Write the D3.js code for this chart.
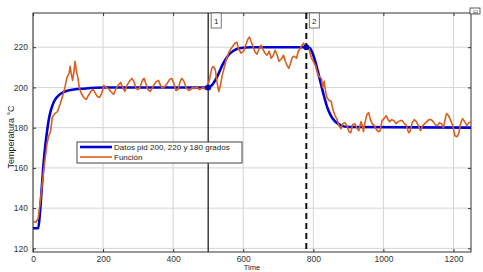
<!DOCTYPE html>
<html>
<head>
<meta charset="utf-8">
<script src="https://cdn.jsdelivr.net/npm/d3@7"></script>
<style>
  body { margin: 0; background: #fff; }
  text { font-family: "Liberation Sans", Arial, sans-serif; }
</style>
</head>
<body>
<script>
// data
var xTicks = [0, 200, 400, 600, 800, 1000, 1200];
var yTicks = [120, 140, 160, 180, 200, 220];

var pidTime = [0, 15, 20, 25, 30, 35, 40, 45, 50, 60, 70, 80, 100, 150, 200, 500, 510, 520, 530, 540, 550, 560, 570, 580, 590, 605, 620, 780, 790, 800, 810, 820, 830, 840, 850, 860, 870, 880, 900, 1250];
var pidTemp = [130, 130, 138, 150, 162, 171, 178, 184, 188, 193, 195.5, 197, 198.5, 199.5, 200, 200, 201, 203.5, 207, 211, 214, 216.5, 218, 219, 219.5, 219.8, 220, 220, 219.5, 216, 210, 203, 196, 190, 186, 183.5, 182, 181, 180.3, 180];

var funTime = [0, 8, 15, 22, 30, 40, 45, 50, 55, 62, 70, 78, 85, 91, 97, 103, 106, 110, 113, 117, 120, 124, 128, 132, 138, 145, 152, 158, 165, 172, 178, 184, 190, 196, 202, 208, 215, 222, 230, 236, 243, 250, 256, 262, 268, 275, 282, 288, 294, 300, 306, 312, 317, 322, 328, 334, 340, 346, 352, 358, 364, 370, 376, 383, 390, 396, 402, 408, 414, 420, 425, 431, 437, 444, 450, 456, 462, 468, 474, 480, 486, 492, 498, 504, 510, 515, 520, 525, 530, 535, 540, 546, 552, 558, 564, 570, 576, 582, 587, 594, 601, 607, 613, 618, 624, 629, 634, 639, 645, 651, 656, 662, 668, 674, 680, 686, 691, 697, 702, 708, 715, 720, 725, 730, 735, 740, 746, 752, 757, 763, 768, 772, 777, 783, 788, 794, 800, 806, 812, 818, 823, 827, 831, 835, 839, 845, 851, 856, 862, 868, 873, 879, 884, 890, 896, 902, 907, 912, 918, 924, 930, 936, 940, 943, 948, 953, 958, 963, 968, 974, 980, 986, 991, 996, 1002, 1008, 1013, 1018, 1024, 1030, 1036, 1042, 1048, 1054, 1060, 1066, 1072, 1076, 1082, 1088, 1094, 1100, 1106, 1112, 1118, 1124, 1130, 1136, 1142, 1148, 1154, 1160, 1166, 1171, 1176, 1180, 1186, 1192, 1198, 1204, 1210, 1215, 1220, 1226, 1232, 1238, 1244, 1250];
var funTemp = [133.5, 133, 135, 145, 158, 172, 176, 178, 185, 187, 188, 192, 196, 200, 205, 207, 210.5, 206, 203.5, 208, 213, 208, 205, 200, 197, 195, 194, 196, 198, 199, 197, 195.5, 195, 197, 201, 200, 199.5, 198, 196.5, 199, 201, 202.5, 200, 198, 201, 203, 204.5, 203, 199.5, 199, 200.5, 203.5, 204.5, 202, 199, 198, 199.5, 201.5, 203, 203.5, 201, 199.5, 200.5, 202, 204, 204.5, 202, 198.5, 199, 203, 204.5, 203, 200, 198.5, 199, 200, 199.5, 200.5, 199, 199.5, 200, 199, 200.5, 204, 209.5, 210.5, 209, 203, 198, 201, 206, 210, 214, 217, 219, 220.5, 222, 222.5, 219, 217, 218, 221, 224, 225, 222, 220, 217.5, 216.5, 219, 221, 219, 217, 216, 218, 214.5, 216, 218.5, 216, 213, 214, 216, 213, 211, 209.5, 212, 215, 215.5, 214.5, 218, 219.5, 221, 222, 220, 220.5, 219, 215, 213, 211, 207, 205, 204.5, 200, 203, 198, 195, 193.5, 193, 189, 186, 184, 181, 179.5, 182, 182.5, 181, 178, 177.5, 181.5, 182, 180, 178.5, 183, 181, 178, 183, 186.5, 187.5, 184, 182, 181, 179, 178, 178.5, 183.5, 184.5, 186, 184, 183, 184, 183.5, 182, 183, 183.5, 183.5, 182, 181, 177.5, 178, 182.5, 184, 183, 181, 178.5, 181, 182, 183, 184, 184, 183, 181.5, 181, 182.5, 182, 180, 184, 187, 186, 183.5, 181, 176, 175.5, 177, 182, 184.5, 183, 181, 182.5, 183];

var markTimes = [500, 780];
var markLabels = ["1", "2"];
var seriesNames = ["Datos pid 200, 220 y 180 grados", "Función"];

var W = 483, H = 272;
var margin = {top: 13, right: 12, bottom: 20, left: 33};
var width = W - margin.left - margin.right;
var height = H - margin.top - margin.bottom;

var svg = d3.select("body").append("svg")
    .attr("width", W)
    .attr("height", H);

var g = svg.append("g")
    .attr("transform", "translate(" + margin.left + "," + margin.top + ")");

var x = d3.scaleLinear().domain([0, 1250]).range([0, width]);
var y = d3.scaleLinear().domain([118.2, 237]).range([height, 0]);

// grid
g.append("g").selectAll("line").data(xTicks).enter().append("line")
    .attr("x1", function(d) { return x(d); }).attr("x2", function(d) { return x(d); })
    .attr("y1", 0).attr("y2", height)
    .attr("stroke", "#d4d4d4").attr("stroke-width", 1);
g.append("g").selectAll("line").data(yTicks).enter().append("line")
    .attr("y1", function(d) { return y(d); }).attr("y2", function(d) { return y(d); })
    .attr("x1", 0).attr("x2", width)
    .attr("stroke", "#d4d4d4").attr("stroke-width", 1);

// axes, ticks pointing inwards like matlab
var xAxis = d3.axisBottom(x).tickValues(xTicks).tickFormat(d3.format("d"))
    .tickSizeInner(-3).tickSizeOuter(0).tickPadding(4);
var yAxis = d3.axisLeft(y).tickValues(yTicks).tickFormat(d3.format("d"))
    .tickSizeInner(-3).tickSizeOuter(0).tickPadding(5);

g.append("g").attr("transform", "translate(0," + height + ")").call(xAxis);
g.append("g").call(yAxis);
g.append("g").call(d3.axisTop(x).tickValues(xTicks).tickSizeInner(-3).tickSizeOuter(0).tickFormat(""));
g.append("g").attr("transform", "translate(" + width + ",0)")
    .call(d3.axisRight(y).tickValues(yTicks).tickSizeInner(-3).tickSizeOuter(0).tickFormat(""));

g.selectAll(".domain").remove();
g.selectAll(".tick line").attr("stroke", "#333");
g.selectAll(".tick text").attr("fill", "#333").style("font-size", "8.5px");

g.append("rect")
    .attr("width", width).attr("height", height)
    .attr("fill", "none").attr("stroke", "#333").attr("stroke-width", 1);

// marker lines
g.append("line")
    .attr("x1", x(markTimes[0])).attr("x2", x(markTimes[0]))
    .attr("y1", 0).attr("y2", height)
    .attr("stroke", "#222").attr("stroke-width", 1.3);
g.append("line")
    .attr("x1", x(markTimes[1])).attr("x2", x(markTimes[1]))
    .attr("y1", 0).attr("y2", height)
    .attr("stroke", "#111").attr("stroke-width", 2)
    .attr("stroke-dasharray", "6,4");

var lbl = g.selectAll(".mark").data(markTimes).enter().append("g")
    .attr("class", "mark")
    .attr("transform", function(d) { return "translate(" + (x(d) + 3) + ",0)"; });
lbl.append("rect")
    .attr("width", 10).attr("height", 15)
    .attr("fill", "#fff").attr("stroke", "#555").attr("stroke-width", 0.8);
lbl.append("text")
    .attr("x", 5).attr("y", 11)
    .attr("text-anchor", "middle")
    .style("font-size", "8px").attr("fill", "#222")
    .text(function(d, i) { return markLabels[i]; });

// lines
var fun = funTime.map(function(t, i) { return [t, funTemp[i]]; });
var pid = pidTime.map(function(t, i) { return [t, pidTemp[i]]; });

var line = d3.line()
    .x(function(d) { return x(d[0]); })
    .y(function(d) { return y(d[1]); });
var smooth = d3.line()
    .x(function(d) { return x(d[0]); })
    .y(function(d) { return y(d[1]); })
    .curve(d3.curveMonotoneX);

g.append("path").datum(pid)
    .attr("d", smooth)
    .attr("fill", "none").attr("stroke", "#0000d4").attr("stroke-width", 2.6);

g.append("path").datum(fun)
    .attr("d", line)
    .attr("fill", "none").attr("stroke", "#d95f1e").attr("stroke-width", 1.6)
    .attr("stroke-linejoin", "round");

// dots where the setpoint changes
g.selectAll(".dot").data([[500, 200], [780, 220]]).enter().append("circle")
    .attr("cx", function(d) { return x(d[0]); })
    .attr("cy", function(d) { return y(d[1]); })
    .attr("r", 3).attr("fill", "#0000b0");

// legend
var leg = svg.append("g").attr("transform", "translate(77,142)");
leg.append("rect")
    .attr("width", 165).attr("height", 21)
    .attr("fill", "#fff").attr("stroke", "#444").attr("stroke-width", 1);
var colors = ["#0000d4", "#d95f1e"];
var widths = [2.6, 1.6];
seriesNames.forEach(function(name, i) {
    leg.append("line")
        .attr("x1", 3).attr("x2", 35)
        .attr("y1", 5 + i * 10).attr("y2", 5 + i * 10)
        .attr("stroke", colors[i]).attr("stroke-width", widths[i]);
    leg.append("text")
        .attr("x", 37).attr("y", 8 + i * 10)
        .style("font-size", "8px").attr("fill", "#222")
        .text(name);
});

// axis titles
svg.append("text")
    .attr("transform", "translate(14,137) rotate(-90)")
    .attr("text-anchor", "middle")
    .style("font-size", "9px").attr("fill", "#222")
    .text("Temperatura °C");
svg.append("text")
    .attr("x", margin.left + width / 2).attr("y", 270)
    .attr("text-anchor", "middle")
    .style("font-size", "7.5px").attr("fill", "#222")
    .text("Time");

// little figure icon at top right
svg.append("rect")
    .attr("x", 470).attr("y", 8).attr("width", 10).attr("height", 6)
    .attr("fill", "#fff").attr("stroke", "#333").attr("stroke-width", 0.8);
svg.append("text")
    .attr("x", 475).attr("y", 13.5).attr("text-anchor", "middle")
    .style("font-size", "6px").attr("fill", "#333")
    .text("⊟");
</script>
</body>
</html>
